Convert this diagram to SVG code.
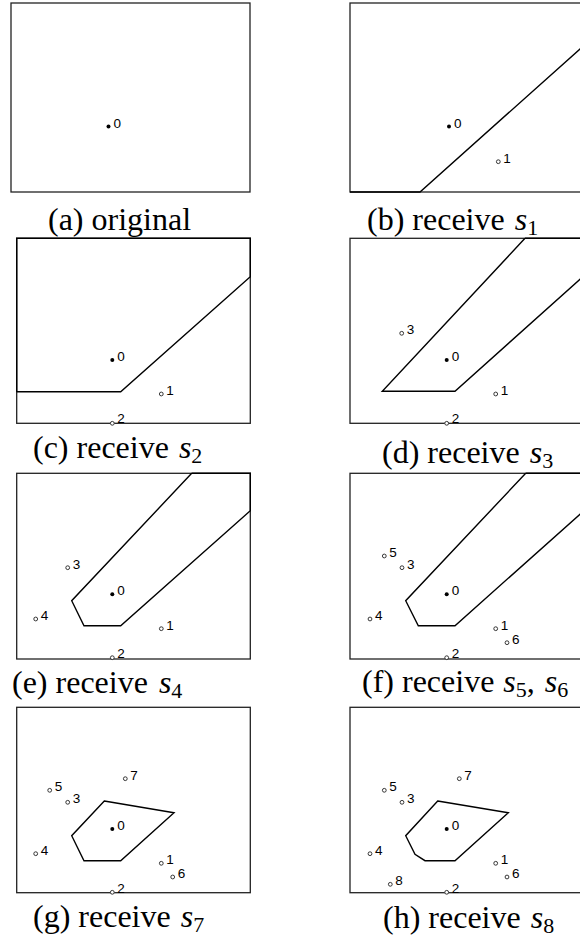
<svg xmlns="http://www.w3.org/2000/svg" width="580" height="945" viewBox="0 0 580 945">
<style>
.frame{fill:none;stroke:#222;stroke-width:1.3}
.reg{fill:none;stroke:#000;stroke-width:1.4;stroke-linejoin:miter}
.p0{fill:#000}
.p{fill:#fff;stroke:#222;stroke-width:0.9}
.lb{font-family:"Liberation Sans",Arial,sans-serif;font-size:13.5px;fill:#000}
.cap{font-family:"Liberation Serif","Times New Roman",serif;font-size:32px;fill:#000}
.m{font-style:italic}
.sub{font-size:22px}
</style>
<rect width="580" height="945" fill="#fff"/>

<g id="panel-a">
<rect class="frame" x="11" y="3" width="239" height="189"/>
<circle class="p0" cx="108.5" cy="126.5" r="2"/><text class="lb" x="113.5" y="127.5">0</text>
<text class="cap" x="48" y="230">(a) original</text>
</g>

<g id="panel-b">
<rect class="frame" x="350" y="3" width="239" height="189"/>
<polyline class="reg" points="350,192 420,192 580,49 589,41"/>
<circle class="p0" cx="449" cy="126.5" r="2"/><text class="lb" x="454" y="127.5">0</text>
<circle class="p" cx="498.3" cy="161.7" r="1.9"/><text class="lb" x="503.3" y="162.5">1</text>
<text class="cap" x="367" y="230">(b) receive <tspan class="m" dx="2">s</tspan><tspan class="sub" dy="5">1</tspan></text>
</g>

<g id="panel-c">
<rect class="frame" x="16.7" y="238.3" width="233.6" height="185"/>
<polyline class="reg" points="16.7,391.7 120.7,391.7 250.3,276.7 250.3,238.3 16.7,238.3 16.7,391.7"/>
<circle class="p0" cx="112.3" cy="360" r="2"/><text class="lb" x="117.3" y="361">0</text>
<circle class="p" cx="161.3" cy="394" r="1.9"/><text class="lb" x="166.3" y="395">1</text>
<circle class="p" cx="112.3" cy="423.3" r="1.9"/><text class="lb" x="117.3" y="423.3">2</text>
<text class="cap" x="33" y="458">(c) receive <tspan class="m" dx="2">s</tspan><tspan class="sub" dy="5">2</tspan></text>
</g>

<g id="panel-d">
<rect class="frame" x="350" y="238.3" width="239" height="185"/>
<polyline class="reg" points="525,238.3 382.3,391.3 455,391.3 580,279.3 589,271.3"/>
<line class="reg" x1="525" y1="238.3" x2="589" y2="238.3"/>
<circle class="p" cx="401.7" cy="333.3" r="1.9"/><text class="lb" x="406.7" y="334.3">3</text>
<circle class="p0" cx="446.7" cy="360" r="2"/><text class="lb" x="451.7" y="361">0</text>
<circle class="p" cx="495.7" cy="394" r="1.9"/><text class="lb" x="500.7" y="395">1</text>
<circle class="p" cx="446.7" cy="423.3" r="1.9"/><text class="lb" x="451.7" y="423.3">2</text>
<text class="cap" x="382" y="463">(d) receive <tspan class="m" dx="2">s</tspan><tspan class="sub" dy="5">3</tspan></text>
</g>

<g id="panel-e">
<rect class="frame" x="16.7" y="473.3" width="233.6" height="185.7"/>
<polyline class="reg" points="191.7,473.3 71.7,600.7 84,625.7 120.7,625.7 250.3,510.7 250.3,473.3 191.7,473.3"/>
<circle class="p" cx="67.7" cy="567.7" r="1.9"/><text class="lb" x="72.7" y="568.7">3</text>
<circle class="p0" cx="112.3" cy="594.3" r="2"/><text class="lb" x="117.3" y="595.3">0</text>
<circle class="p" cx="35.7" cy="619" r="1.9"/><text class="lb" x="40.7" y="620">4</text>
<circle class="p" cx="161.3" cy="628.7" r="1.9"/><text class="lb" x="166.3" y="629.7">1</text>
<circle class="p" cx="112.3" cy="657.7" r="1.9"/><text class="lb" x="117.3" y="658">2</text>
<text class="cap" x="12" y="693">(e) receive <tspan class="m" dx="3">s</tspan><tspan class="sub" dy="5">4</tspan></text>
</g>

<g id="panel-f">
<rect class="frame" x="350" y="473.3" width="239" height="185.7"/>
<polyline class="reg" points="525.7,473.3 405.7,600.7 418.3,625.7 455,625.7 580,514.3 589,506.3"/>
<line class="reg" x1="525.7" y1="473.3" x2="589" y2="473.3"/>
<circle class="p" cx="384.3" cy="556" r="1.9"/><text class="lb" x="389.3" y="557">5</text>
<circle class="p" cx="402" cy="567.7" r="1.9"/><text class="lb" x="407" y="568.7">3</text>
<circle class="p0" cx="446.7" cy="594.3" r="2"/><text class="lb" x="451.7" y="595.3">0</text>
<circle class="p" cx="370" cy="619" r="1.9"/><text class="lb" x="375" y="620">4</text>
<circle class="p" cx="495.7" cy="628.7" r="1.9"/><text class="lb" x="500.7" y="629.7">1</text>
<circle class="p" cx="507" cy="642.7" r="1.9"/><text class="lb" x="512" y="643.7">6</text>
<circle class="p" cx="446.7" cy="657.7" r="1.9"/><text class="lb" x="451.7" y="658">2</text>
<text class="cap" x="362" y="692">(f) receive <tspan class="m" dx="1">s</tspan><tspan class="sub" dy="5">5</tspan><tspan dy="-5">, </tspan><tspan class="m" dx="2">s</tspan><tspan class="sub" dy="5">6</tspan></text>
</g>

<g id="panel-g">
<rect class="frame" x="16.7" y="707.3" width="233.6" height="185.4"/>
<polygon class="reg" points="104.3,801 174,812.7 120.7,860.7 84,860.7 71.7,835.7"/>
<circle class="p" cx="125.3" cy="778.7" r="1.9"/><text class="lb" x="130.3" y="779.7">7</text>
<circle class="p" cx="49.7" cy="790.3" r="1.9"/><text class="lb" x="54.7" y="791.3">5</text>
<circle class="p" cx="67.7" cy="802.3" r="1.9"/><text class="lb" x="72.7" y="803.3">3</text>
<circle class="p0" cx="112.3" cy="829" r="2"/><text class="lb" x="117.3" y="830">0</text>
<circle class="p" cx="35.7" cy="853.7" r="1.9"/><text class="lb" x="40.7" y="854.7">4</text>
<circle class="p" cx="161.3" cy="863.3" r="1.9"/><text class="lb" x="166.3" y="864.3">1</text>
<circle class="p" cx="172.7" cy="877" r="1.9"/><text class="lb" x="177.7" y="878">6</text>
<circle class="p" cx="112.3" cy="892.3" r="1.9"/><text class="lb" x="117.3" y="892.5">2</text>
<text class="cap" x="33" y="927">(g) receive <tspan class="m" dx="2">s</tspan><tspan class="sub" dy="5">7</tspan></text>
</g>

<g id="panel-h">
<rect class="frame" x="350" y="707.3" width="239" height="185.4"/>
<polygon class="reg" points="437.7,801 508.3,812.7 455,860.7 425,860.7 415,854.3 405.7,835.7"/>
<circle class="p" cx="459.3" cy="778.7" r="1.9"/><text class="lb" x="464.3" y="779.7">7</text>
<circle class="p" cx="384.3" cy="790.3" r="1.9"/><text class="lb" x="389.3" y="791.3">5</text>
<circle class="p" cx="402" cy="802.3" r="1.9"/><text class="lb" x="407" y="803.3">3</text>
<circle class="p0" cx="446.7" cy="829" r="2"/><text class="lb" x="451.7" y="830">0</text>
<circle class="p" cx="370" cy="853.7" r="1.9"/><text class="lb" x="375" y="854.7">4</text>
<circle class="p" cx="495.7" cy="863.3" r="1.9"/><text class="lb" x="500.7" y="864.3">1</text>
<circle class="p" cx="507" cy="877" r="1.9"/><text class="lb" x="512" y="878">6</text>
<circle class="p" cx="390.3" cy="884.3" r="1.9"/><text class="lb" x="395.3" y="885.3">8</text>
<circle class="p" cx="446.7" cy="892.3" r="1.9"/><text class="lb" x="451.7" y="892.5">2</text>
<text class="cap" x="383" y="928">(h) receive <tspan class="m" dx="2">s</tspan><tspan class="sub" dy="5">8</tspan></text>
</g>
</svg>
